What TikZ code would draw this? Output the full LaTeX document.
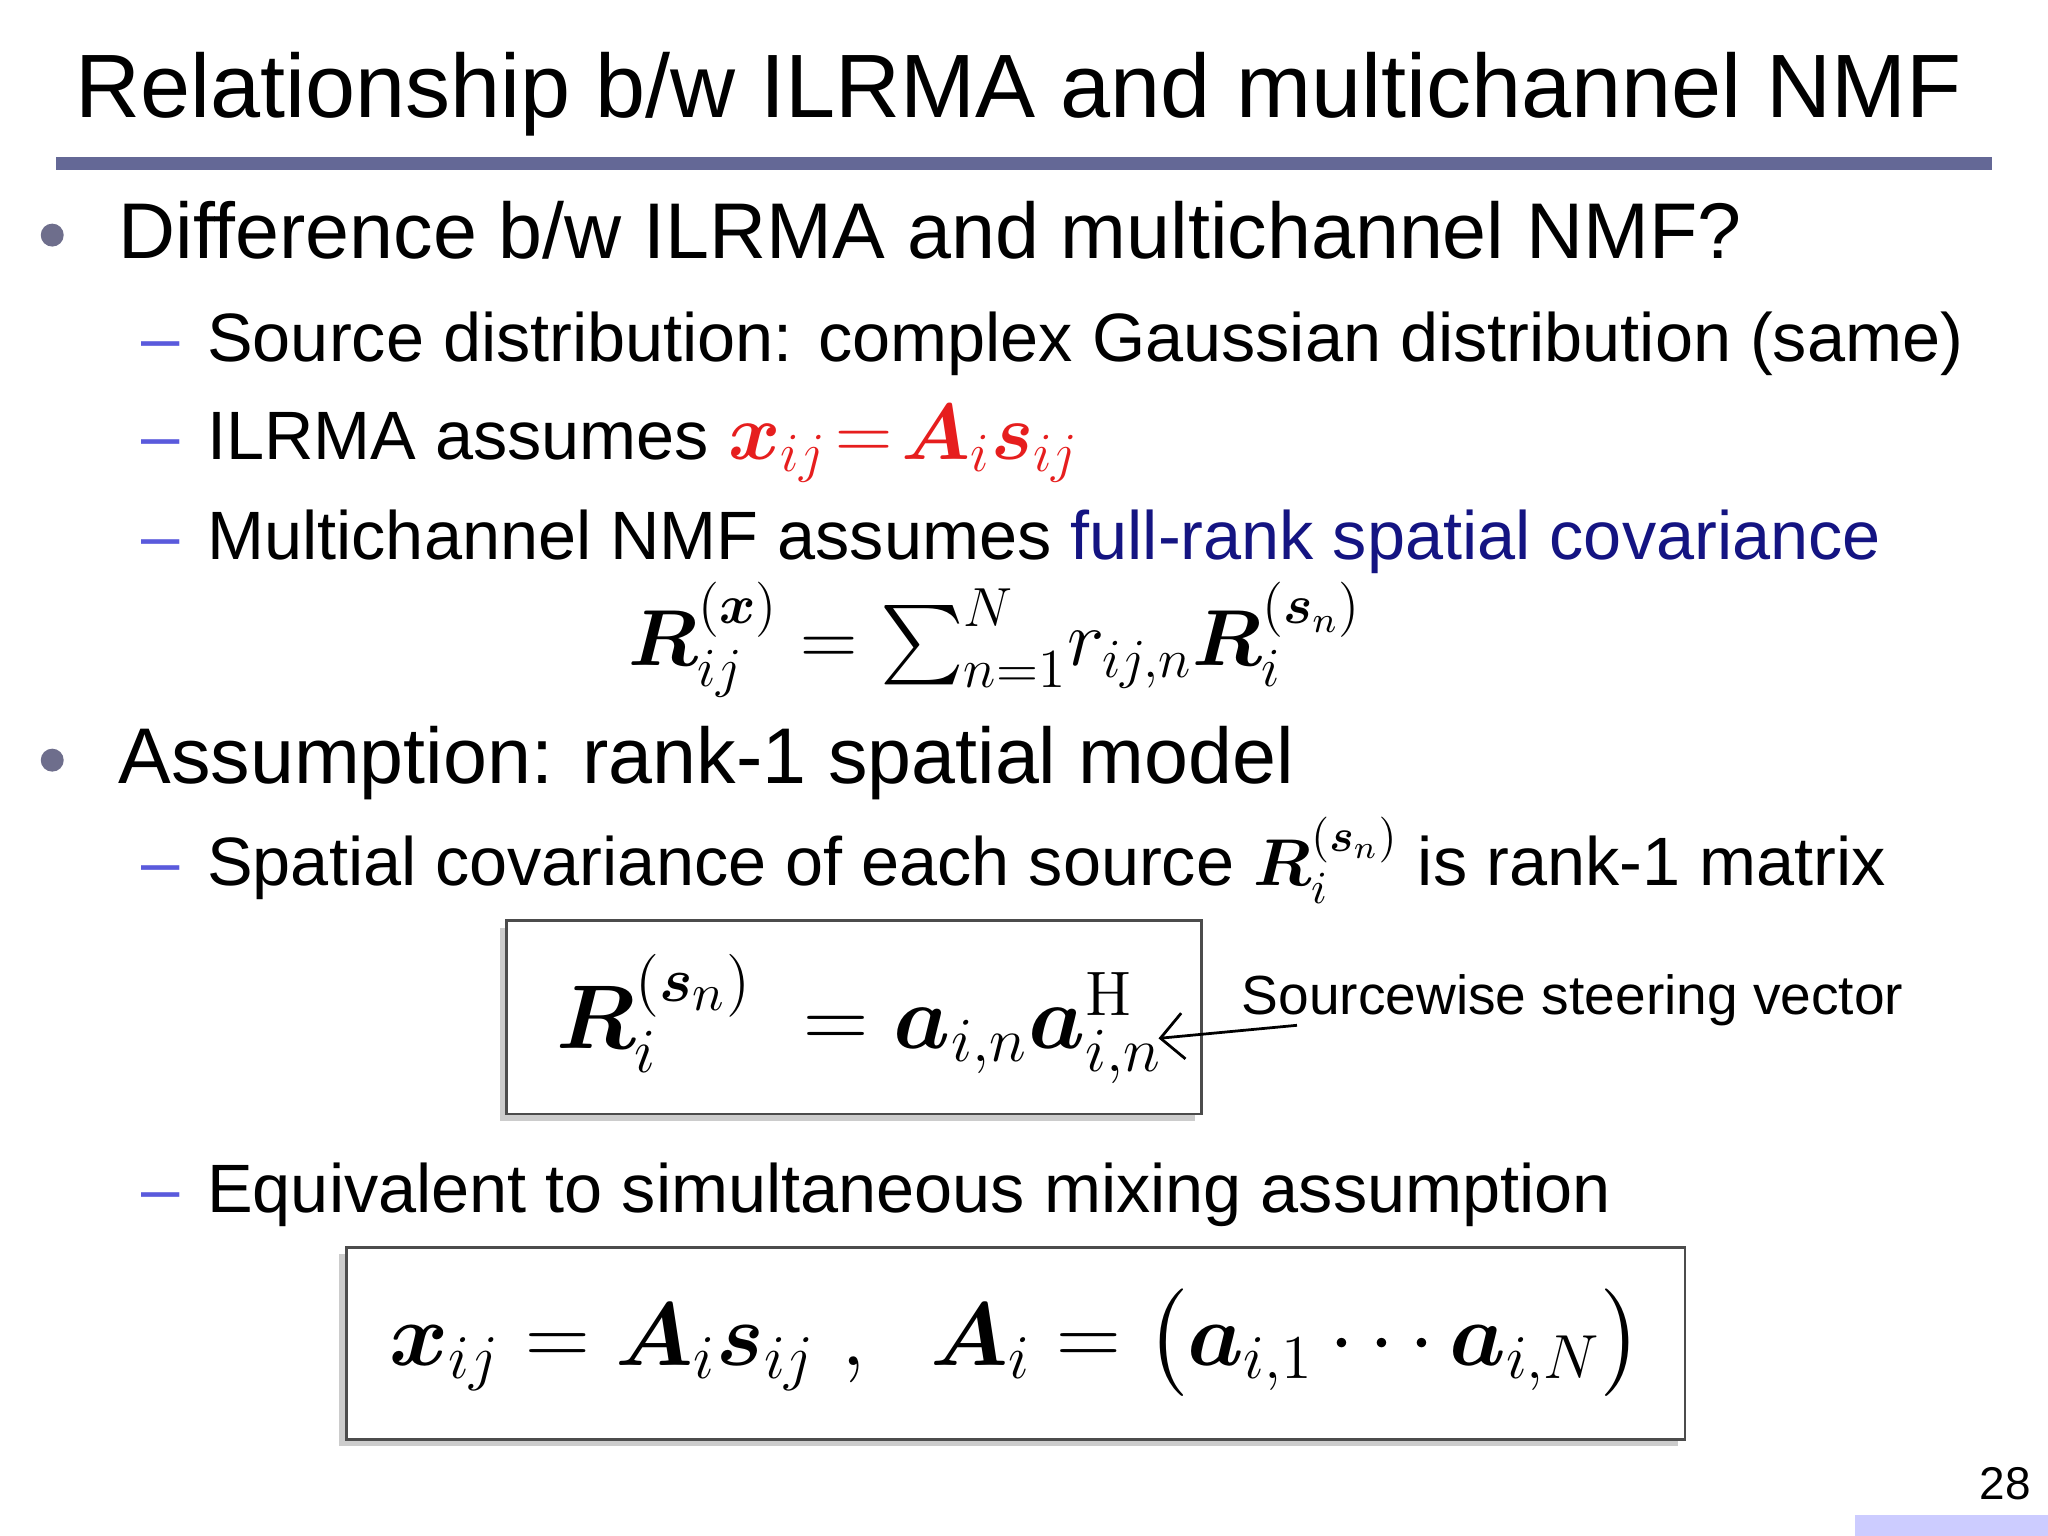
\documentclass[tikz,border=0pt]{standalone}
\usepackage{amsmath,bm,graphicx}
\usepackage[no-math]{fontspec}
\setmainfont{Liberation Sans}
\usetikzlibrary{shadows,arrows.meta}
\definecolor{rulec}{RGB}{100,104,150}
\definecolor{dashc}{RGB}{90,90,220}
\definecolor{bulc}{RGB}{110,110,140}
\definecolor{navy}{RGB}{20,20,130}
\definecolor{redm}{RGB}{230,30,30}
\begin{document}
\begin{tikzpicture}[x=0.01cm,y=-0.01cm,
  txt/.style={anchor=base west,inner sep=0pt},
  lvl1/.style={txt,font=\fontsize{17.2}{20}\selectfont},
  lvl2/.style={txt,font=\fontsize{14.9}{18}\selectfont},
  dashm/.style={txt,text=dashc,font=\fontsize{15}{18}\selectfont},
  bul/.style={circle,fill=bulc,inner sep=0pt,minimum size=5pt},
  eqbox/.style={draw=black!70,fill=white,line width=0.6pt,drop shadow={shadow xshift=-1.5pt,shadow yshift=-1.5pt,opacity=0.4}}]
\useasboundingbox (0,0) rectangle (1568,1176);
\node[txt,font=\fontsize{19.6}{22}\selectfont] (title) at (57,90) {Relationship b/w ILRMA and multichannel NMF};
\fill[rulec] (43,120) rectangle (1525,130);
\node[bul] (b1) at (40,180) {};
\node[lvl1] (t1) at (90,198) {Difference b/w ILRMA and multichannel NMF?};
\node[dashm] (d1) at (108,277) {--};
\node[lvl2] (t2) at (158,277) {Source distribution: complex Gaussian distribution (same)};
\node[dashm] (d2) at (108,352) {--};
\node[lvl2] (t3) at (158,352) {ILRMA assumes \textcolor{redm}{\fontsize{18}{20}\selectfont$\bm{x}_{ij}\!=\!\bm{A}_i\bm{s}_{ij}$}};
\node[dashm] (d3) at (108,428) {--};
\node[lvl2] (t4) at (158,428) {Multichannel NMF assumes \textcolor{navy}{full-rank spatial covariance}};
\node[inner sep=0pt,font=\fontsize{17}{20}\selectfont] (eq1) at (762,490) {$\bm{R}_{ij}^{(\bm{x})}=\sum_{n=1}^{N}\! r_{ij,n}\bm{R}_i^{(\bm{s}_n)}$};
\node[bul] (b2) at (40,582) {};
\node[lvl1] (t5) at (90,600) {Assumption: rank-1 spatial model};
\node[dashm] (d4) at (108,678) {--};
\node[lvl2] (t6) at (158,678) {Spatial covariance of each source $\bm{R}_i^{(\bm{s}_n)}$ is rank-1 matrix};
\draw[eqbox] (388,705) rectangle (920,853);
\node[inner sep=0pt,font=\fontsize{17.28}{24}\selectfont,anchor=west] (eq2) at (425,780) {\scalebox{1.14}{$\bm{R}_i^{(\bm{s}_n)}\;=\bm{a}_{i,n}\bm{a}_{i,n}^{\mathrm{H}}$}};
\node[txt,font=\fontsize{12}{14}\selectfont] (sv) at (950,777) {Sourcewise steering vector};
\coordinate (arS) at (993,785);
\coordinate (arE) at (887,795);
\draw[-{Straight Barb[length=5pt]},line width=0.6pt] (arS) -- (arE);
\node[dashm] (d5) at (108,928) {--};
\node[lvl2] (t7) at (158,928) {Equivalent to simultaneous mixing assumption};
\draw[eqbox] (265,955) rectangle (1290,1102);
\node[inner sep=0pt,font=\fontsize{17.28}{24}\selectfont] (eq3) at (778,1028) {\scalebox{1.13}{$\bm{x}_{ij}=\bm{A}_i\bm{s}_{ij}\ ,\ \ \bm{A}_i=\big(\bm{a}_{i,1}\cdots\bm{a}_{i,N}\big)$}};
\node[txt,font=\fontsize{10}{12}\selectfont] (pg) at (1515,1148) {28};
\fill[blue!20] (1420,1160) rectangle (1568,1176);
\end{tikzpicture}
\end{document}
